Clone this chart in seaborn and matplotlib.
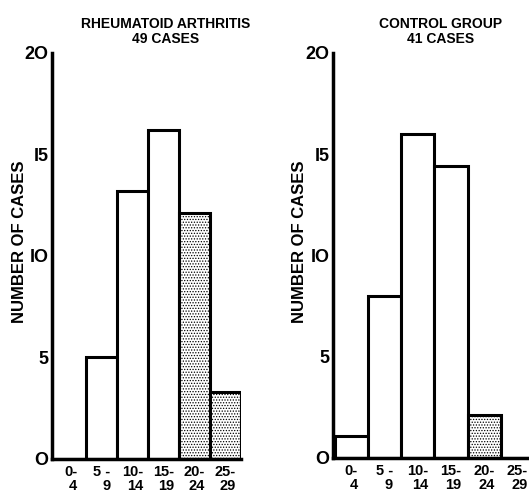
import numpy as np
import pandas as pd
import matplotlib
matplotlib.use("Agg")
import matplotlib.pyplot as plt
import seaborn as sns

# grupos de edad y número de casos
edades = ["0-\n4", "5 -\n9", "10-\n14", "15-\n19", "20-\n24", "25-\n29"]
casos_ar = [0, 5.0, 13.2, 16.2, 12.1, 3.3]
casos_control = [1.1, 8.0, 16.0, 14.4, 2.1, 0]
punteado = [False, False, False, False, True, True]

sns.set_style("white")
plt.rcParams['font.family'] = ['Liberation Sans', 'DejaVu Sans']
plt.rcParams['text.color'] = 'black'
plt.rcParams['xtick.color'] = 'black'
plt.rcParams['ytick.color'] = 'black'
plt.rcParams['axes.labelcolor'] = 'black'
plt.rcParams['hatch.linewidth'] = 0.6
plt.rcParams['hatch.color'] = 'black'

fig = plt.figure(figsize=(5.29, 4.94), dpi=100)
ax1 = fig.add_axes([0.0983, 0.0709, 0.357, 0.822])
ax2 = fig.add_axes([0.6295, 0.0729, 0.3705, 0.820])

paneles = [
    (ax1, casos_ar, "RHEUMATOID ARTHRITIS\n49 CASES", (-0.6, 5.5), 0.60),
    (ax2, casos_control, "CONTROL GROUP\n41 CASES", (-0.55, 5.35), 0.55),
]

for ax, valores, titulo, xlim, tx in paneles:
    df = pd.DataFrame({"edad": edades, "casos": valores})
    sns.barplot(data=df, x="edad", y="casos", ax=ax, width=1,
                color="white", edgecolor="black", linewidth=2.2,
                saturation=1, errorbar=None)
    for p, pt in zip(ax.patches, punteado):
        if pt:
            p.set_hatch("......")
    ax.set_xlim(*xlim)
    ax.set_ylim(0, 20)
    ax.set_yticks([0, 5, 10, 15, 20])
    ax.set_yticklabels(["O", "5", "IO", "I5", "2O"], fontsize=13,
                       fontweight="bold")
    ax.tick_params(axis="y", length=2.5, width=2.5, pad=0, direction="out")
    ax.tick_params(axis="x", length=0, pad=4)
    for lab in ax.get_xticklabels():
        lab.set_multialignment("right")
        lab.set_fontsize(10.5)
        lab.set_fontweight("bold")
        lab.set_linespacing(1.0)
    for s in ["top", "right"]:
        ax.spines[s].set_visible(False)
    for s in ["left", "bottom"]:
        ax.spines[s].set_linewidth(2.5)
        ax.spines[s].set_color("black")
    ax.set_xlabel("")
    ax.set_ylabel("NUMBER OF CASES", fontsize=12, fontweight="bold")
    ax.set_title(titulo, fontsize=10, fontweight="bold", linespacing=1.15,
                 x=tx, pad=7)
    ax.set_facecolor("white")

ax1.yaxis.set_label_coords(-0.135, 0.535)
ax2.yaxis.set_label_coords(-0.135, 0.535)

fig.savefig("out.png", dpi=100, facecolor="white")
